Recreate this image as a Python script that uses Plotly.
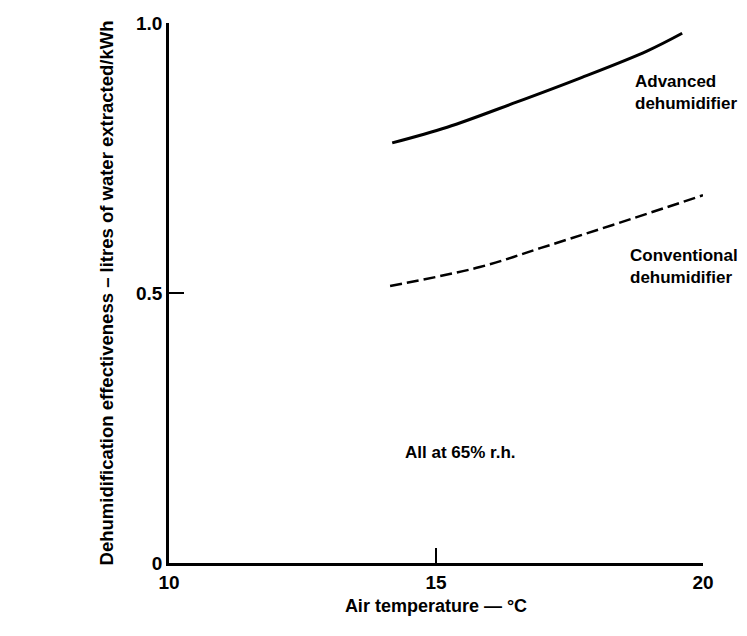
import plotly.graph_objects as go

# Data
advanced_temp = [14.18, 15.21, 16.44, 17.70, 18.95, 19.61]
advanced_eff = [0.778, 0.807, 0.851, 0.898, 0.948, 0.981]

conventional_temp = [14.14, 15.82, 16.95, 18.31, 20.0]
conventional_eff = [0.513, 0.548, 0.583, 0.626, 0.681]

x_ticks = [10, 15, 20]
x_tick_labels = ["10", "15", "20"]
y_ticks = [0, 0.5, 1.0]
y_tick_labels = ["0", "0.5", "1.0"]

FONT = "Liberation Sans, Arial, Helvetica, sans-serif"

fig = go.Figure()
fig.add_trace(go.Scatter(
    x=advanced_temp, y=advanced_eff, mode="lines",
    line=dict(color="black", width=3, shape="spline", smoothing=1),
    name="Advanced dehumidifier", showlegend=False,
))
fig.add_trace(go.Scatter(
    x=conventional_temp, y=conventional_eff, mode="lines",
    line=dict(color="black", width=2.5, dash="12px,5px", shape="spline", smoothing=1),
    name="Conventional dehumidifier", showlegend=False,
))

fig.update_layout(
    width=747, height=636,
    margin=dict(l=161, r=52, t=15, b=81),
    paper_bgcolor="white", plot_bgcolor="white",
    font=dict(family=FONT, size=17, color="black", weight="bold"),
    xaxis=dict(
        range=[10, 20], tickvals=x_ticks, ticktext=x_tick_labels,
        showgrid=False, zeroline=False, showline=True, linecolor="black", linewidth=2.5,
        ticks="inside", ticklen=15, tickwidth=2, tickcolor="black", automargin=False,
        tickfont=dict(size=19, family=FONT, weight="bold"),
        title=dict(text="Air temperature \u2014 \u00b0C", standoff=8,
                   font=dict(size=18, family=FONT, weight="bold")),
    ),
    yaxis=dict(
        range=[0, 1.0], tickvals=y_ticks, ticktext=y_tick_labels,
        showgrid=False, zeroline=False, showline=True, linecolor="black", linewidth=2.5,
        ticks="inside", ticklen=15, tickwidth=2, tickcolor="black", automargin=False,
        tickfont=dict(size=19, family=FONT, weight="bold"),
        title=dict(text="Dehumidification effectiveness \u2013 litres of water extracted/kWh",
                   standoff=18, font=dict(size=18.5, family=FONT, weight="bold")),
    ),
    annotations=[
        dict(x=18.69, y=0.872, xref="x", yref="y", text="Advanced<br>dehumidifier",
             showarrow=False, xanchor="left", yanchor="middle", align="left"),
        dict(x=18.60, y=0.55, xref="x", yref="y", text="Conventional<br>dehumidifier",
             showarrow=False, xanchor="left", yanchor="middle", align="left"),
        dict(x=14.38, y=0.205, xref="x", yref="y", text="All at 65% r.h.",
             showarrow=False, xanchor="left", yanchor="middle", align="left"),
    ],
)

fig.write_html("out.html")
